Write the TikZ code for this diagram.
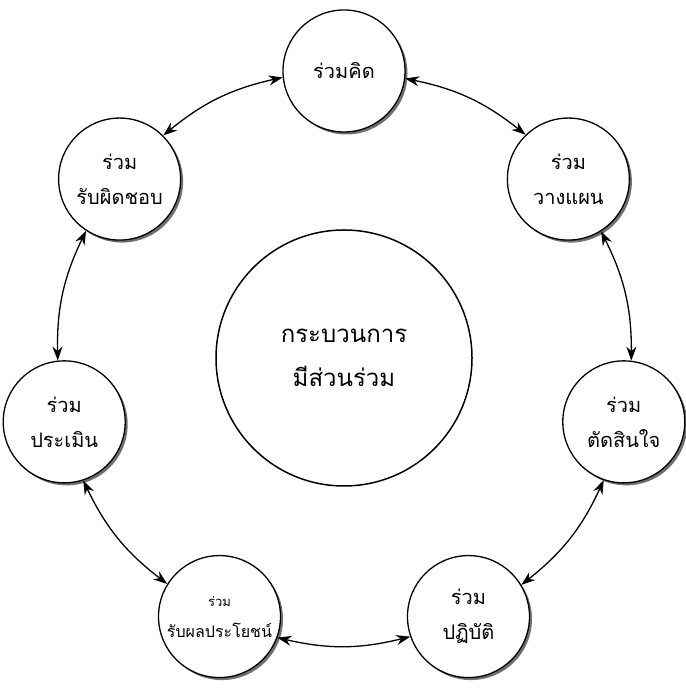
\documentclass[tikz,border=0pt]{standalone}
\usepackage{fontspec}
\newfontfamily\thaifont[Script=Thai]{Loma}
\usetikzlibrary{arrows.meta,shadows,calc}
\begin{document}
\begin{tikzpicture}[x=1pt,y=1pt,
  outer/.style={circle,draw,line width=1.3pt,minimum size=122pt,inner sep=0pt,align=center,
    fill=white,font=\thaifont\fontsize{20}{35}\selectfont,
    drop shadow={shadow xshift=2.5pt,shadow yshift=-2.5pt,fill=black!70,opacity=0.8}},
  hub/.style={circle,draw,line width=1.5pt,minimum size=256pt,inner sep=0pt,align=center,
    fill=white,font=\thaifont\fontsize{24}{44}\selectfont},
  conn/.style={{Stealth[length=14pt,width=10pt]}-{Stealth[length=14pt,width=10pt]},line width=1.3pt}]
\useasboundingbox (0,0) rectangle (685,690);
\coordinate (O) at (344,332);
\node[hub] (c) at (O) {กระบวนการ\\มีส่วนร่วม};
\node[outer] (n0) at ($(O)+(90:287)$) {ร่วมคิด};
\node[outer] (n1) at ($(O)+(141.43:287)$) {ร่วม\\รับผิดชอบ};
\node[outer] (n2) at ($(O)+(192.86:287)$) {ร่วม\\ประเมิน};
\node[outer] (n3) at ($(O)+(244.29:287)$) {{\fontsize{13}{14}\selectfont ร่วม}\\[-4pt]{\fontsize{16}{30}\selectfont รับผลประโยชน์}};
\node[outer] (n4) at ($(O)+(295.71:287)$) {ร่วม\\ปฏิบัติ};
\node[outer] (n5) at ($(O)+(347.14:287)$) {ร่วม\\ตัดสินใจ};
\node[outer] (n6) at ($(O)+(38.57:287)$) {ร่วม\\วางแผน};
\draw[conn] (n0.186.1) to[bend right=13.5] (n1.45.3);
\draw[conn] (n1.237.5) to[bend right=13.5] (n2.96.76);
\draw[conn] (n2.288.96) to[bend right=13.5] (n3.148.2);
\draw[conn] (n3.340.4) to[bend right=13.5] (n4.199.6);
\draw[conn] (n4.31.8) to[bend right=13.5] (n5.251.0);
\draw[conn] (n5.83.2) to[bend right=13.5] (n6.302.5);
\draw[conn] (n6.134.67) to[bend right=13.5] (n0.353.9);
\end{tikzpicture}
\end{document}
